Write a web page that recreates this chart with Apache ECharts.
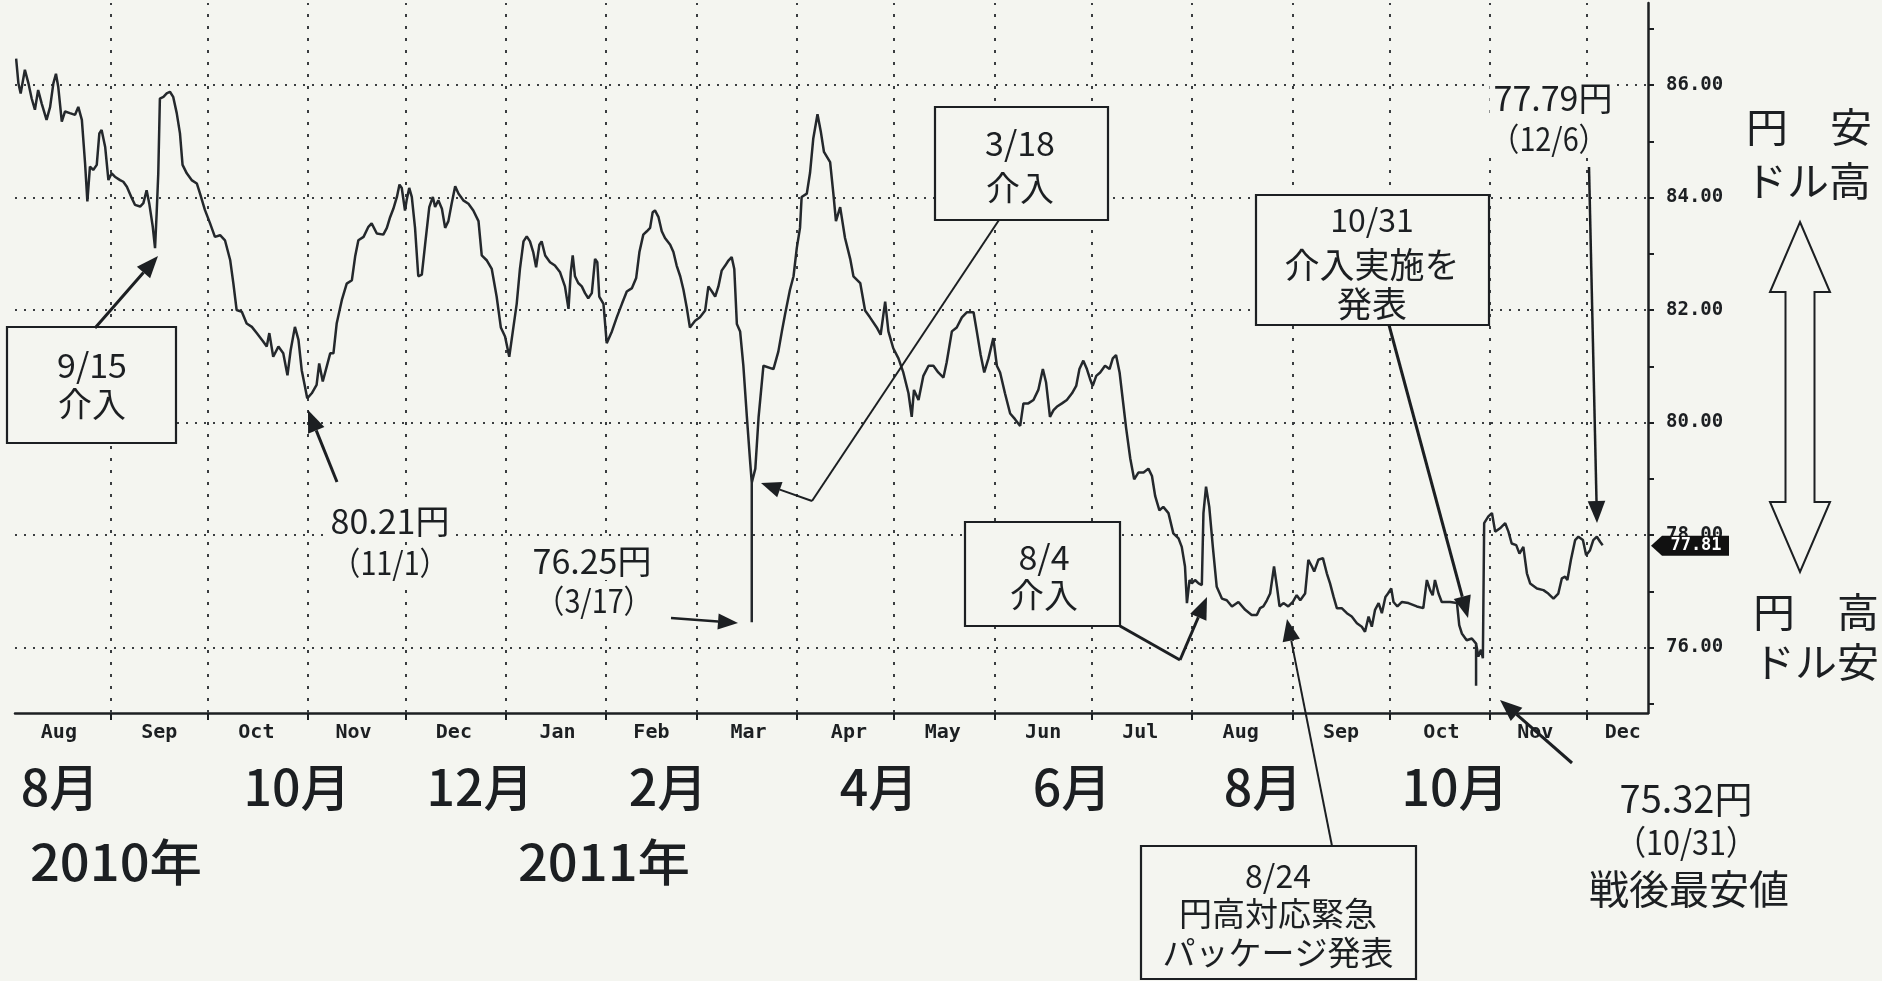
<!DOCTYPE html>
<html>
<head>
<meta charset="utf-8">
<script src="https://cdn.jsdelivr.net/npm/echarts@6/dist/echarts.min.js"></script>
<style>
html, body { margin: 0; padding: 0; background: #f4f5f0; }
#chart { width: 1882px; height: 981px; }
</style>
</head>
<body>
<div id="chart"></div>
<script>
// ドル円相場 2010年8月〜2011年12月 (日数は2010/8/1からの経過日)
var startDate = Date.UTC(2010, 7, 1);
var days = [
    1.8, 2.5, 3.2, 4.5, 5.6, 6.6, 7.6, 8.6, 9.7, 11.2, 12.3, 13.3, 14.1, 14.8, 15.9, 16.9, 18.4, 20.0, 21.0, 22.1,
    23.1, 23.8, 24.6, 25.6, 26.7, 27.5, 28.2, 29.3, 30.3, 31.3, 32.3, 33.9, 34.9, 36.0, 37.5, 38.5, 40.1, 41.1, 42.1, 42.9,
    44.0, 44.7, 45.2, 45.7, 46.2, 47.3, 48.3, 49.3, 50.3, 51.4, 52.4, 53.2, 54.5, 56.0, 57.6, 58.6, 60.1, 61.7, 63.2, 64.8,
    66.3, 67.9, 68.9, 69.9, 71.5, 73.0, 74.6, 76.1, 78.1, 79.2, 80.0, 81.2, 82.8, 84.3, 85.6, 86.6, 87.9, 89.0, 90.0, 91.0,
    91.7, 93.1, 94.6, 95.4, 96.5, 97.7, 98.8, 99.8, 100.8, 102.4, 103.9, 105.5, 106.5, 107.5, 109.1, 110.6, 111.6, 113.2,
    115.2, 116.3, 117.3, 118.3, 119.4, 120.2, 120.9, 121.9, 122.4, 123.2, 124.0, 125.0, 126.0, 127.1, 128.1, 129.4, 130.5,
    131.2, 132.2, 133.3, 134.3, 135.3, 136.3, 137.4, 138.4, 139.9, 141.5, 143.0, 144.6, 145.6, 147.2, 148.7, 150.2, 151.5,
    152.8, 154.1, 155.2, 156.4, 157.4, 158.5, 159.5, 160.5, 161.5, 162.4, 163.4, 164.1, 165.2, 166.7, 168.2, 169.8, 171.3,
    172.4, 173.1, 173.7, 174.4, 175.4, 176.5, 177.5, 178.5, 179.6, 180.6, 181.3, 181.9, 183.2, 184.2, 185.8, 187.3, 188.9,
    190.4, 192.0, 193.3, 194.3, 195.5, 196.6, 197.6, 198.4, 199.1, 200.2, 201.2, 202.2, 203.8, 204.8, 205.8, 206.9, 207.9,
    208.9, 209.9, 211.5, 213.0, 214.6, 215.6, 216.7, 217.7, 218.7, 219.7, 220.8, 221.8, 222.8, 223.6, 224.4, 225.4, 226.4,
    227.5, 228.5, 229.0, 229.0, 229.0, 230.1, 231.1, 232.6, 235.7, 237.2, 238.3, 239.3, 240.8, 241.9, 242.9, 243.9, 244.4,
    246.0, 247.0, 248.0, 249.3, 250.3, 251.3, 253.2, 254.2, 255.0, 256.3, 257.8, 259.4, 260.4, 262.5, 264.0, 265.5, 267.6,
    268.8, 270.2, 271.2, 272.7, 274.3, 275.8, 277.4, 278.4, 279.1, 280.5, 282.0, 283.6, 285.1, 286.6, 288.2, 289.2, 290.8,
    292.3, 293.9, 295.4, 297.5, 298.5, 299.7, 300.8, 302.1, 303.6, 304.7, 305.7, 307.2, 308.8, 310.3, 311.9, 312.9, 314.4,
    316.0, 317.5, 318.9, 319.9, 321.1, 322.2, 323.2, 324.8, 326.3, 327.9, 329.2, 330.2, 331.4, 332.5, 333.5, 334.3, 335.4,
    336.6, 338.1, 339.5, 340.5, 341.5, 342.6, 343.6, 344.6, 345.9, 347.1, 348.4, 350.0, 351.5, 352.6, 353.6, 354.9, 356.1,
    357.7, 359.2, 360.8, 361.8, 362.8, 363.4, 364.2, 364.9, 365.9, 367.0, 368.0, 368.5, 369.3, 370.3, 371.4, 372.6, 374.2,
    375.7, 377.3, 379.3, 381.4, 383.4, 385.0, 386.0, 387.0, 388.1, 389.1, 390.3, 391.2, 392.0, 393.2, 394.7, 396.1, 397.3,
    398.4, 399.9, 400.9, 402.0, 402.7, 404.0, 405.4, 406.6, 407.6, 408.7, 409.7, 411.2, 412.8, 414.3, 415.9, 417.4, 418.4,
    419.5, 420.5, 421.5, 422.6, 423.6, 424.7, 425.5, 426.5, 427.2, 428.4, 429.8, 431.8, 434.4, 436.4, 437.5, 438.5, 439.3,
    440.0, 441.1, 442.1, 444.7, 446.8, 447.5, 448.3, 449.8, 451.4, 452.7, 452.7, 452.7, 453.4, 454.2, 454.8, 455.2, 456.5,
    457.6, 458.6, 460.1, 461.7, 462.7, 463.7, 465.1, 466.1, 467.3, 468.4, 469.4, 471.5, 473.5, 475.0, 476.6, 478.1, 479.2,
    480.2, 480.9, 482.0, 483.3, 484.3, 485.7, 486.7, 487.9, 488.9, 490.0, 491.0, 491.8
];
var rates = [
    86.47, 86.03, 85.85, 86.27, 86.03, 85.76, 85.56, 85.91, 85.67, 85.38, 85.61, 86.03, 86.20, 85.97, 85.35, 85.53, 85.50, 85.47, 85.61, 85.38,
    84.60, 83.93, 84.55, 84.49, 84.58, 85.14, 85.20, 84.90, 84.31, 84.43, 84.37, 84.31, 84.28, 84.19, 83.99, 83.87, 83.84, 83.90, 84.13, 83.90,
    83.48, 83.10, 83.72, 84.43, 85.76, 85.79, 85.85, 85.88, 85.79, 85.50, 85.14, 84.58, 84.43, 84.31, 84.25, 84.07, 83.78, 83.54, 83.30, 83.33,
    83.24, 82.89, 82.47, 82.00, 81.97, 81.76, 81.70, 81.59, 81.44, 81.35, 81.59, 81.17, 81.35, 81.23, 80.84, 81.29, 81.70, 81.47, 80.93, 80.64,
    80.43, 80.52, 80.67, 81.05, 80.73, 80.99, 81.23, 81.23, 81.76, 82.18, 82.47, 82.53, 82.95, 83.24, 83.30, 83.48, 83.54, 83.36,
    83.34, 83.46, 83.65, 83.80, 84.01, 84.23, 84.17, 83.77, 83.95, 84.17, 84.01, 83.46, 82.60, 82.63, 83.16, 83.83, 84.01,
    83.83, 83.95, 83.80, 83.46, 83.58, 83.89, 84.20, 84.07, 83.95, 83.89, 83.77, 83.58, 82.97, 82.88, 82.73, 82.24, 81.69,
    81.53, 81.17, 81.62, 82.11, 82.73, 83.22, 83.31, 83.22, 83.03, 82.76, 83.16, 83.22, 82.97, 82.85, 82.79, 82.67, 82.42,
    82.02, 82.67, 82.97, 82.60, 82.48, 82.42, 82.30, 82.21, 82.30, 82.91, 82.85, 82.24, 82.11, 81.41, 81.62, 81.87, 82.11,
    82.33, 82.39, 82.57, 83.03, 83.34, 83.40, 83.46, 83.74, 83.77, 83.65, 83.40, 83.28, 83.16, 83.03, 82.79, 82.60, 82.36,
    82.05, 81.69, 81.81, 81.87, 81.99, 82.42, 82.33, 82.24, 82.42, 82.70, 82.79, 82.88, 82.94, 82.73, 81.75, 81.62, 81.01,
    80.09, 79.30, 78.93, 76.45, 78.93, 79.18, 80.09, 81.01, 80.95, 81.26, 81.62, 81.93, 82.36, 82.60, 83.10, 83.46, 84.01,
    84.07, 84.44, 85.05, 85.48, 85.18, 84.81, 84.63, 84.07, 83.58, 83.83, 83.28, 82.91, 82.60, 82.48, 81.99, 81.87, 81.69,
    81.56, 82.15, 81.62, 81.32, 81.14, 80.89, 80.52, 80.10, 80.58, 80.40, 80.83, 81.01, 81.01, 80.89, 80.80, 81.07, 81.62,
    81.69, 81.87, 81.96, 81.96, 81.62, 81.20, 80.89, 81.14, 81.50, 81.01, 80.89, 80.52, 80.16, 80.06, 79.94, 80.34, 80.34,
    80.40, 80.58, 80.95, 80.71, 80.10, 80.22, 80.28, 80.34, 80.40, 80.52, 80.65, 80.95, 81.10, 80.95, 80.77, 80.65, 80.83,
    80.89, 81.01, 80.95, 81.14, 81.20, 80.89, 80.40, 79.91, 79.36, 78.99, 79.11, 79.11, 79.18, 79.05, 78.69, 78.44, 78.50,
    78.39, 78.03, 77.94, 77.79, 77.44, 76.79, 77.20, 77.14, 77.20, 77.14, 77.11, 78.39, 78.86, 78.50, 77.79, 77.08, 76.87,
    76.84, 76.73, 76.81, 76.67, 76.58, 76.58, 76.70, 76.73, 76.84, 76.96, 77.44, 77.08, 76.73, 76.79, 76.73, 76.81, 76.93,
    76.84, 76.96, 77.56, 77.44, 77.35, 77.56, 77.59, 77.32, 77.14, 76.90, 76.70, 76.70, 76.61, 76.55, 76.43, 76.37, 76.28,
    76.55, 76.37, 76.67, 76.79, 76.61, 76.90, 76.96, 77.05, 76.81, 76.73, 76.81, 76.79, 76.73, 76.70, 77.20, 77.02, 76.93,
    77.20, 76.96, 76.81, 76.81, 76.79, 76.40, 76.25, 76.13, 76.16, 76.07, 75.32, 76.07, 75.84, 75.96, 75.81, 78.21, 78.33,
    78.39, 78.06, 78.12, 78.21, 78.06, 77.85, 77.82, 77.67, 77.79, 77.32, 77.14, 77.05, 77.02, 76.96, 76.87, 76.96, 77.23,
    77.26, 77.20, 77.56, 77.91, 77.97, 77.91, 77.64, 77.73, 77.91, 77.97, 77.88, 77.82
];
var monthStarts = ['2010-09-01', '2010-10-01', '2010-11-01', '2010-12-01', '2011-01-01', '2011-02-01', '2011-03-01',
    '2011-04-01', '2011-05-01', '2011-06-01', '2011-07-01', '2011-08-01', '2011-09-01', '2011-10-01', '2011-11-01', '2011-12-01'];
var monthLabelDates = ['2010-08-16', '2010-09-16', '2010-10-16', '2010-11-15', '2010-12-16', '2011-01-17', '2011-02-15',
    '2011-03-17', '2011-04-17', '2011-05-16', '2011-06-16', '2011-07-16', '2011-08-16', '2011-09-16', '2011-10-17',
    '2011-11-15', '2011-12-12'];
var monthNames = ['Jan', 'Feb', 'Mar', 'Apr', 'May', 'Jun', 'Jul', 'Aug', 'Sep', 'Oct', 'Nov', 'Dec'];
var yLabelValues = [76, 78, 80, 82, 84, 86];
var yTickValues = [75, 76, 77, 78, 79, 80, 81, 82, 83, 84, 85, 86, 87];
var lastPrice = 77.81;
var jpMonths = ['8月', '10月', '12月', '2月', '4月', '6月', '8月', '10月'];
var years = ['2010年', '2011年'];

var DAY = 86400000;
var bg = '#f4f5f0';
var ink = '#1c1f22';
var jpFont = '"Noto Sans CJK JP"';

// 日付文字列 -> 2010/8/1からの日数
function dayOf(s) {
    var p = s.split('-');
    return Math.round((Date.UTC(+p[0], +p[1] - 1, +p[2]) - startDate) / DAY);
}

var lineData = [];
for (var i = 0; i < days.length; i++) {
    lineData.push([days[i], rates[i]]);
}

var gridLines = [];
yLabelValues.forEach(function (v) {
    gridLines.push({ yAxis: v, lineStyle: { type: [2, 7] } });
});
monthStarts.forEach(function (s) {
    gridLines.push({ xAxis: dayOf(s), lineStyle: { type: [3, 9] } });
});

var myChart = echarts.init(document.getElementById('chart'));
var option = {
    backgroundColor: bg,
    animation: false,
    grid: { left: 15, right: 234, top: 3, bottom: 268, outerBoundsMode: 'none' },
    xAxis: {
        type: 'value',
        min: 1.45,
        max: 505.8,
        axisLine: { lineStyle: { color: ink, width: 2.5 } },
        axisTick: { customValues: monthStarts.map(dayOf), length: 7, lineStyle: { color: ink, width: 2 } },
        axisLabel: {
            customValues: monthLabelDates.map(dayOf),
            margin: 10,
            color: '#1c1f22',
            fontFamily: '"DejaVu Sans Mono"',
            fontWeight: 'bold',
            fontSize: 20,
            formatter: function (v) { return monthNames[new Date(startDate + v * DAY).getUTCMonth()]; }
        },
        splitLine: { show: false }
    },
    yAxis: {
        type: 'value',
        position: 'right',
        min: 74.836,
        max: 87.458,
        axisLine: { show: true, lineStyle: { color: ink, width: 2.5 } },
        axisTick: { show: true, customValues: yTickValues, length: 6, lineStyle: { color: ink, width: 2 } },
        axisLabel: {
            customValues: yLabelValues,
            margin: 18,
            color: '#1c1f22',
            fontFamily: '"DejaVu Sans Mono"',
            fontWeight: 'bold',
            fontSize: 19,
            formatter: function (v) { return v.toFixed(2); }
        },
        splitLine: { show: false }
    },
    series: [
        {
            type: 'line',
            data: [],
            z: 1,
            silent: true,
            markLine: {
                silent: true,
                symbol: 'none',
                animation: false,
                label: { show: false },
                lineStyle: { color: '#3a3d40', width: 2 },
                data: gridLines
            }
        },
        {
            type: 'line',
            data: lineData,
            z: 5,
            showSymbol: false,
            lineStyle: { color: '#24282c', width: 2.5 }
        }
    ]
};
myChart.setOption(option);

// 注記
function txt(x, y, s, size, sx, withBg, weight) {
    return {
        type: 'text', x: x, y: y, scaleX: sx || 1, z: 100,
        style: {
            text: s, font: (weight || 'normal') + ' ' + size + 'px ' + jpFont, fill: ink,
            align: 'center', verticalAlign: 'middle', textAlign: 'center', textVerticalAlign: 'middle',
            backgroundColor: withBg ? bg : null, padding: withBg ? [2, 4] : 0
        }
    };
}
function box(x, y, w, h) {
    return { type: 'rect', z: 90, shape: { x: x, y: y, width: w, height: h }, style: { fill: bg, stroke: ink, lineWidth: 2.2 } };
}
function seg(x1, y1, x2, y2, w) {
    return { type: 'line', z: 95, shape: { x1: x1, y1: y1, x2: x2, y2: y2 }, style: { stroke: ink, lineWidth: w } };
}
function arrow(x1, y1, x2, y2, w, head) {
    var L = head || 22, W = L * 0.4;
    var a = Math.atan2(y2 - y1, x2 - x1);
    var bx = x2 - L * Math.cos(a), by = y2 - L * Math.sin(a);
    var px = -Math.sin(a) * W, py = Math.cos(a) * W;
    return [
        seg(x1, y1, bx, by, w),
        { type: 'polygon', z: 95, shape: { points: [[x2, y2], [bx + px, by + py], [bx - px, by - py]] }, style: { fill: ink } }
    ];
}

var g = [];
// 9/15
g.push(box(7, 327, 169, 116));
g.push(txt(92, 365, '9/15', 34), txt(92, 404, '介入', 34));
g = g.concat(arrow(95, 328, 158, 256, 3));
// 80.21円
g.push(txt(390, 521, '80.21円', 34, 1, true), txt(390, 563, '（11/1）', 32, 0.9, true));
g = g.concat(arrow(337, 482, 308, 410, 3));
// 76.25円
g.push(txt(592, 561, '76.25円', 34, 1, true), txt(594, 601, '（3/17）', 32, 0.9, true));
g = g.concat(arrow(671, 618, 738, 623, 2.5, 20));
// 3/18
g.push(box(935, 107, 173, 113));
g.push(txt(1020, 143, '3/18', 34), txt(1020, 188, '介入', 34));
g.push(seg(999, 220, 812, 501, 2));
g = g.concat(arrow(812, 501, 761, 483, 2, 20));
// 8/4
g.push(box(965, 522, 155, 104));
g.push(txt(1044, 557, '8/4', 34), txt(1044, 595, '介入', 34));
g.push(seg(1120, 626, 1180, 660, 3));
g = g.concat(arrow(1180, 660, 1207, 597, 3));
// 8/24
g.push(box(1141, 846, 275, 133));
g.push(txt(1278, 876, '8/24', 32), txt(1278, 913, '円高対応緊急', 33), txt(1278, 952, 'パッケージ発表', 33));
g = g.concat(arrow(1332, 846, 1287, 619, 2));
// 10/31
g.push(box(1256, 195, 233, 130));
g.push(txt(1372, 220, '10/31', 32), txt(1372, 265, '介入実施を', 35), txt(1372, 304, '発表', 35));
g = g.concat(arrow(1389, 325, 1468, 618, 3));
// 77.79円
g.push(txt(1553, 98, '77.79円', 34, 1, true), txt(1549, 139, '（12/6）', 32, 0.9, true));
g = g.concat(arrow(1589, 167, 1597, 523, 2.5));
// 75.32円
g.push(txt(1686, 799, '75.32円', 38), txt(1686, 842, '（10/31）', 34, 0.9), txt(1689, 889, '戦後最安値', 40));
g = g.concat(arrow(1572, 763, 1500, 700, 3));
// 円安・円高
g.push(txt(1809, 127, '円　安', 40, 1.05), txt(1808, 181, 'ドル高', 40, 1.05));
g.push(txt(1816, 612, '円　高', 40, 1.05), txt(1816, 662, 'ドル安', 40, 1.05));
g.push({
    type: 'polygon', z: 95,
    shape: { points: [[1800, 222], [1830, 292], [1814.5, 292], [1814.5, 502], [1830, 502], [1800, 572],
        [1770, 502], [1785.5, 502], [1785.5, 292], [1770, 292]] },
    style: { fill: bg, stroke: ink, lineWidth: 2 }
});
// 月・年
var jpMonthX = [60, 297, 480, 668, 879, 1072, 1263, 1455];
jpMonths.forEach(function (m, k) { g.push(txt(jpMonthX[k], 787, m, 50, 1, false, '500')); });
g.push(txt(116, 862, years[0], 50, 1.05, false, '500'), txt(604, 862, years[1], 50, 1.05, false, '500'));

// 終値タグ
var py = myChart.convertToPixel({ yAxisIndex: 0 }, lastPrice);
g.push({
    type: 'polygon', z: 110,
    shape: { points: [[1651, py], [1662, py - 10], [1729, py - 10], [1729, py + 10], [1662, py + 10]] },
    style: { fill: '#111' }
});
g.push({
    type: 'text', x: 1696, y: py, z: 111,
    style: { text: lastPrice.toFixed(2), font: 'bold 17px "DejaVu Sans Mono"', fill: '#fff',
        align: 'center', verticalAlign: 'middle', textAlign: 'center', textVerticalAlign: 'middle' }
});

myChart.setOption({ graphic: g });
</script>
</body>
</html>
